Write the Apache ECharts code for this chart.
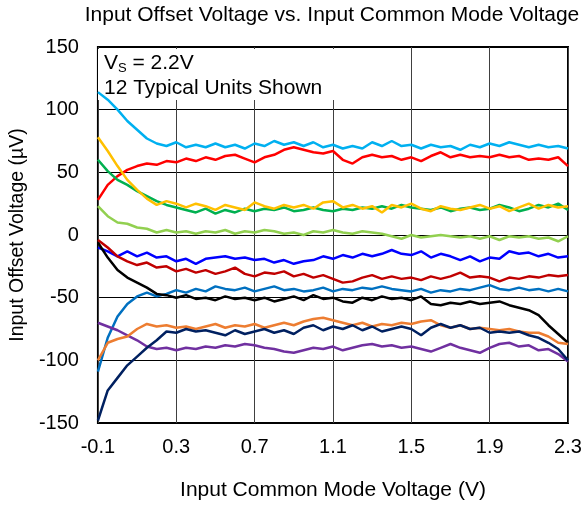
<!DOCTYPE html>
<html>
<head>
<meta charset="utf-8">
<script src="https://cdn.jsdelivr.net/npm/echarts@6/dist/echarts.min.js"></script>
<style>
  html, body { margin: 0; padding: 0; background: #fff; }
  #chart { width: 585px; height: 506px; }
</style>
</head>
<body>
<div id="chart"></div>
<script>
// input common mode voltage (V), sample positions
const vcm = [
  -0.1, -0.05, 0, 0.05, 0.1, 0.15, 0.2, 0.25, 0.3, 0.35,
  0.4, 0.45, 0.5, 0.55, 0.6, 0.65, 0.7, 0.75, 0.8, 0.85,
  0.9, 0.95, 1.0, 1.05, 1.1, 1.15, 1.2, 1.25, 1.3, 1.35,
  1.4, 1.45, 1.5, 1.55, 1.6, 1.65, 1.7, 1.75, 1.8, 1.85,
  1.9, 1.95, 2.0, 2.05, 2.1, 2.15, 2.2, 2.25, 2.3
]
const xTicks = [-0.1, 0.3, 0.7, 1.1, 1.5, 1.9, 2.3]

// offset voltage (uV) of each unit
const unitLightBlue = [
  114, 108, 100, 91, 84, 77, 73, 71, 74, 70,
  72, 70, 73, 70, 72, 69, 73, 71, 75, 72,
  74, 71, 74, 70, 72, 69, 71, 69, 74, 71,
  75, 71, 72, 69, 72, 70, 71, 68, 72, 70,
  73, 71, 74, 72, 70, 72, 70, 71, 69
]
const unitRed = [
  28, 40, 47, 52, 55, 57, 56, 59, 58, 61,
  59, 62, 60, 63, 64, 61, 58, 62, 64, 68,
  70, 68, 66, 65, 67, 60, 57, 62, 64, 62,
  63, 60, 62, 59, 63, 66, 62, 64, 62, 63,
  62, 64, 62, 63, 60, 61, 60, 62, 55
]
const unitYellow = [
  78, 67, 55, 44, 36, 29, 24, 27, 25, 22,
  25, 23, 20, 24, 22, 20, 26, 23, 21, 24,
  22, 24, 21, 26, 27, 22, 24, 21, 23, 18,
  24, 22, 25, 21, 19, 23, 21, 20, 22, 24,
  21, 23, 19, 22, 25, 21, 24, 22, 23
]
const unitGreen = [
  60, 51, 44, 40, 35, 31, 27, 24, 22, 20,
  18, 21, 17, 20, 18, 21, 19, 21, 20, 22,
  19, 20, 22, 20, 19, 21, 20, 22, 21, 23,
  21, 24, 22, 21, 20, 22, 19, 21, 22, 20,
  21, 24, 22, 19, 21, 24, 22, 25, 20
]
const unitLightGreen = [
  23, 15, 10, 9, 6, 5, 2, 4, 2, 3,
  1, 3, 2, 4, 1, 3, 2, 4, 3, 1,
  2, 0, 3, 2, 4, 2, 1, 3, 2, 1,
  -1, -3, 0, -2, -1, 0, -1, -2, -1, -3,
  -1, -4, -1, -2, -1, -3, -2, -5, -1
]
const unitBlue = [
  -10, -13, -17, -13, -17, -14, -18, -17, -21, -19,
  -23, -19, -18, -17, -19, -18, -20, -19, -22, -20,
  -23, -21, -20, -17, -19, -16, -18, -15, -17, -15,
  -12, -15, -16, -13, -18, -15, -17, -20, -17, -21,
  -18, -19, -13, -15, -14, -17, -15, -18, -17
]
const unitDarkRed = [
  -4, -10, -17, -21, -24, -22, -26, -25, -29, -27,
  -30, -28, -31, -29, -26, -31, -33, -30, -31, -29,
  -33, -31, -34, -32, -35, -38, -37, -34, -32, -35,
  -33, -35, -34, -36, -33, -35, -33, -30, -34, -33,
  -34, -37, -34, -35, -33, -34, -32, -33, -32
]
const unitMidBlue = [
  -109, -82, -65, -55, -49, -46, -49, -47, -44, -46,
  -43, -45, -41, -43, -44, -42, -45, -43, -41, -44,
  -43, -45, -44, -42, -45, -43, -44, -42, -43, -41,
  -43, -44, -45, -43, -46, -44, -45, -43, -44, -42,
  -40, -43, -44, -42, -44, -43, -45, -43, -45
]
const unitBlack = [
  -6, -18, -28, -34, -38, -42, -47, -48, -50, -48,
  -51, -50, -52, -49, -51, -50, -52, -50, -53, -51,
  -49, -52, -48, -51, -50, -53, -54, -50, -52, -49,
  -51, -50, -52, -49, -55, -56, -54, -55, -53, -55,
  -54, -53, -56, -58, -60, -64, -72, -79, -86
]
const unitOrange = [
  -100, -86, -83, -81, -75, -71, -73, -72, -74, -73,
  -75, -73, -71, -74, -72, -73, -71, -74, -72, -70,
  -72, -69, -67, -66, -68, -70, -72, -70, -73, -71,
  -72, -70, -71, -69, -68, -72, -74, -72, -75, -74,
  -75, -76, -75, -77, -78, -78, -81, -86, -87
]
const unitNavy = [
  -148, -124, -114, -104, -97, -90, -84, -77, -78, -75,
  -77, -76, -78, -80, -76, -79, -77, -75, -78, -76,
  -79, -74, -72, -76, -73, -75, -72, -76, -73, -77,
  -75, -73, -75, -80, -74, -71, -74, -72, -75, -74,
  -78, -77, -78, -77, -80, -82, -86, -91, -100
]
const unitPurple = [
  -70, -73, -76, -80, -84, -89, -91, -90, -92, -90,
  -91, -89, -90, -88, -89, -87, -88, -90, -91, -93,
  -94, -92, -90, -91, -89, -92, -90, -88, -87, -89,
  -88, -90, -89, -91, -93, -90, -87, -90, -92, -94,
  -90, -87, -86, -89, -88, -92, -91, -95, -101
]

const units = [
  { vals: unitLightBlue, color: '#00B0F0' },
  { vals: unitRed, color: '#FF0000' },
  { vals: unitGreen, color: '#00B050' },
  { vals: unitYellow, color: '#FFC000' },
  { vals: unitLightGreen, color: '#92D050' },
  { vals: unitBlue, color: '#0000FF' },
  { vals: unitDarkRed, color: '#C00000' },
  { vals: unitMidBlue, color: '#0070C0' },
  { vals: unitBlack, color: '#000000' },
  { vals: unitPurple, color: '#7030A0' },
  { vals: unitOrange, color: '#ED7D31' },
  { vals: unitNavy, color: '#002060' }
]

const font = 'Arial, "Liberation Sans", sans-serif'

const chart = echarts.init(document.getElementById('chart'))

const option = {
  backgroundColor: '#fff',
  animation: false,
  textStyle: { fontFamily: font },
  grid: {
    left: 96, right: 17, top: 47, bottom: 82,
    show: true, borderColor: '#000', borderWidth: 2
  },
  xAxis: {
    type: 'value',
    min: -0.1,
    max: 2.3,
    name: 'Input Common Mode Voltage (V)',
    nameLocation: 'middle',
    nameGap: 57,
    nameTextStyle: { fontSize: 21, color: '#000', fontFamily: font },
    axisLine: { show: false },
    axisTick: { show: false, customValues: xTicks },
    axisLabel: { customValues: xTicks, fontSize: 20, color: '#000', margin: 14, fontFamily: font },
    splitLine: { show: true, lineStyle: { color: '#404040', width: 1 } }
  },
  yAxis: {
    type: 'value',
    min: -150,
    max: 150,
    interval: 50,
    name: 'Input Offset Voltage (µV)',
    nameLocation: 'middle',
    nameGap: 68,
    nameTextStyle: { fontSize: 19.5, color: '#000', fontFamily: font },
    axisLine: { show: false },
    axisTick: { show: false },
    axisLabel: { fontSize: 20, color: '#000', margin: 19, fontFamily: font },
    splitLine: { show: true, lineStyle: { color: '#000', width: 1 } }
  },
  graphic: [
    {
      type: 'text',
      x: 332,
      y: 5,
      z: 10,
      style: {
        text: 'Input Offset Voltage vs. Input Common Mode Voltage',
        font: '21px ' + font,
        fill: '#000',
        align: 'center'
      }
    },
    {
      type: 'rect',
      z: 1,
      shape: { x: 98, y: 49, width: 238, height: 51 },
      style: { fill: '#fff' }
    },
    {
      type: 'text',
      x: 104,
      y: 51,
      z: 3,
      style: {
        text: '{v|V}{s|S}{v| = 2.2V}\n{v|12 Typical Units Shown}',
        fill: '#000',
        rich: {
          v: { fontSize: 21, fontFamily: font, lineHeight: 25, fill: '#000' },
          s: { fontSize: 13, fontFamily: font, lineHeight: 25, fill: '#000', padding: [9, 0, 0, 0] }
        }
      }
    }
  ],
  series: units.map(u => ({
    type: 'line',
    data: vcm.map((x, i) => [x, u.vals[i]]),
    showSymbol: false,
    lineStyle: { color: u.color, width: 2.5 },
    z: 2
  }))
}

chart.setOption(option)
</script>
</body>
</html>
